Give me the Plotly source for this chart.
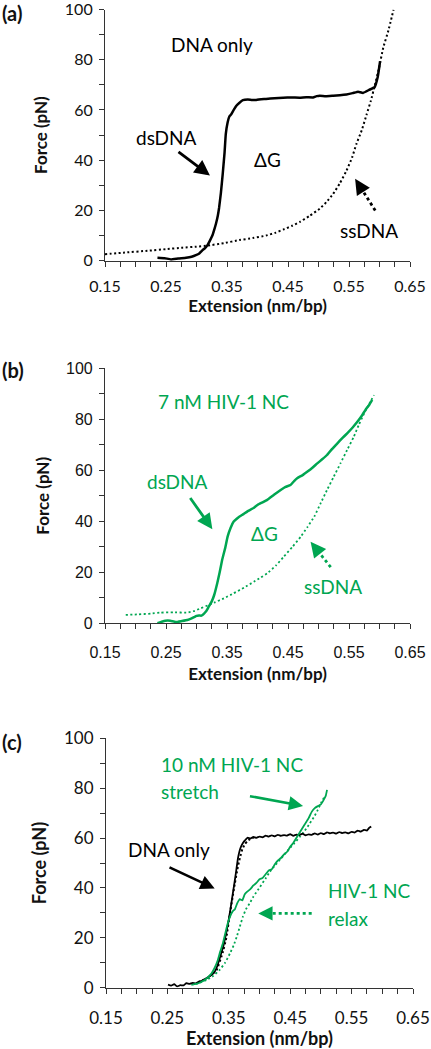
import math
import plotly.graph_objects as go

# ---------------- data ----------------
# Panel (a): DNA only
a_ds_x = [0.236, 0.248, 0.258, 0.270, 0.283, 0.292, 0.299, 0.305, 0.310, 0.314, 0.318, 0.322, 0.326,
          0.329, 0.332, 0.335, 0.337, 0.340, 0.343, 0.346, 0.348, 0.351, 0.354, 0.357, 0.361, 0.365,
          0.370, 0.376, 0.384, 0.391, 0.398, 0.406, 0.414, 0.428, 0.442, 0.456, 0.469, 0.480, 0.491,
          0.497, 0.502, 0.512, 0.524, 0.535, 0.546, 0.556, 0.565, 0.573, 0.583, 0.592, 0.597, 0.601]
a_ds_y = [1.2, 1.0, 0.5, 0.9, 1.2, 1.6, 2.2, 3.0, 4.2, 5.0, 6.2, 8.0, 10.0,
          12.3, 14.8, 18.0, 21.0, 27.0, 34.6, 43.0, 50.4, 55.0, 57.5, 58.3, 60.0, 61.6,
          62.8, 63.9, 64.2, 64.0, 64.0, 64.3, 64.4, 64.7, 64.9, 65.0, 64.9, 65.1, 65.0,
          65.5, 65.7, 65.5, 65.7, 65.9, 66.2, 66.7, 67.3, 66.8, 68.0, 69.1, 73.0, 79.4]
a_ss_x = [0.150, 0.180, 0.222, 0.250, 0.277, 0.300, 0.318, 0.345, 0.370, 0.392, 0.414, 0.430, 0.442,
          0.456, 0.469, 0.485, 0.502, 0.513, 0.524, 0.535, 0.546, 0.555, 0.562, 0.571, 0.579, 0.586,
          0.592, 0.599, 0.606, 0.615, 0.623]
a_ss_y = [2.6, 3.2, 4.0, 4.6, 5.2, 5.6, 6.0, 7.0, 8.2, 9.0, 10.0, 11.2, 12.4,
          13.8, 15.4, 17.8, 20.7, 23.3, 26.6, 30.8, 35.9, 41.0, 46.4, 52.0, 58.3, 63.8,
          69.5, 76.5, 84.7, 92.0, 99.9]

# Panel (b): 7 nM HIV-1 NC
b_ds_x = [0.236, 0.243, 0.249, 0.257, 0.266, 0.276, 0.285, 0.291, 0.296, 0.300, 0.304, 0.308, 0.312,
          0.316, 0.320, 0.325, 0.329, 0.334, 0.338, 0.342, 0.347, 0.351, 0.356, 0.361, 0.366, 0.370,
          0.377, 0.383, 0.392, 0.400, 0.408, 0.416, 0.427, 0.438, 0.446, 0.454, 0.460, 0.465, 0.474,
          0.482, 0.490, 0.498, 0.506, 0.514, 0.522, 0.531, 0.539, 0.547, 0.556, 0.564, 0.571, 0.577,
          0.583, 0.588]
b_ds_y = [0.0, 0.6, 1.0, 1.0, 0.5, 0.9, 1.3, 1.8, 2.4, 2.9, 3.1, 3.0, 3.7,
          4.8, 6.5, 8.6, 11.1, 15.7, 20.0, 24.8, 29.5, 34.0, 37.5, 39.9, 41.0, 41.8,
          42.8, 43.8, 45.0, 46.4, 47.4, 48.4, 50.4, 52.3, 53.5, 54.2, 55.8, 56.9, 58.1,
          59.5, 61.0, 62.7, 64.3, 66.0, 68.3, 70.6, 72.6, 74.5, 76.8, 79.1, 81.4, 83.7,
          85.6, 87.6]
b_ss_x = [0.184, 0.205, 0.225, 0.241, 0.262, 0.285, 0.297, 0.307, 0.318, 0.329, 0.345, 0.361, 0.378,
          0.394, 0.405, 0.416, 0.430, 0.443, 0.457, 0.471, 0.482, 0.493, 0.503, 0.514, 0.525, 0.536,
          0.547, 0.558, 0.566, 0.575, 0.583, 0.591]
b_ss_y = [3.3, 3.5, 3.8, 4.2, 4.3, 4.2, 4.9, 5.9, 7.0, 8.1, 9.8, 11.8, 14.0,
          16.3, 17.9, 19.6, 22.6, 26.1, 29.9, 34.0, 37.8, 41.8, 46.8, 52.3, 57.5, 62.7,
          68.0, 73.2, 77.8, 82.4, 86.0, 89.5]

# Panel (c): DNA only vs 10 nM HIV-1 NC
c_dna_s_x = [0.251, 0.256, 0.261, 0.266, 0.271, 0.276, 0.281, 0.286, 0.291, 0.296, 0.301, 0.306, 0.311,
             0.316, 0.321, 0.326, 0.331, 0.336, 0.341, 0.345, 0.349, 0.353, 0.357, 0.361, 0.365, 0.369,
             0.373, 0.377, 0.381, 0.385, 0.390, 0.395, 0.400, 0.405, 0.410, 0.415, 0.420, 0.425, 0.430,
             0.435, 0.440, 0.445, 0.450, 0.455, 0.460, 0.465, 0.470, 0.475, 0.480, 0.485, 0.490, 0.495,
             0.500, 0.505, 0.510, 0.515, 0.520, 0.525, 0.530, 0.535, 0.540, 0.545, 0.550, 0.555, 0.560,
             0.565, 0.570, 0.575, 0.579, 0.582]
c_dna_s_y = [1.2, 0.8, 1.4, 0.5, 1.0, 0.9, 1.8, 1.5, 1.9, 1.7, 2.4, 2.8, 3.5,
             4.2, 5.0, 6.0, 8.5, 12.4, 16.5, 21.0, 26.0, 32.0, 38.5, 45.0, 52.0, 56.0,
             58.0, 59.3, 60.2, 59.8, 60.5, 60.1, 60.6, 60.3, 61.0, 60.6, 61.1, 60.7, 61.3,
             60.9, 61.2, 61.0, 61.6, 60.9, 61.4, 61.2, 61.8, 61.1, 61.5, 61.3, 61.9, 61.4,
             62.0, 61.6, 62.3, 61.9, 62.2, 61.8, 62.4, 62.0, 62.3, 61.9, 62.5, 62.2, 63.0,
             62.6, 63.3, 63.0, 64.2, 64.6]
c_dna_r_x = [0.300, 0.315, 0.330, 0.340, 0.346, 0.352, 0.356, 0.360, 0.364, 0.368, 0.372, 0.376, 0.380,
             0.384, 0.388, 0.392]
c_dna_r_y = [2.0, 4.0, 7.0, 14.0, 20.0, 30.0, 36.0, 42.0, 47.5, 52.0, 55.5, 57.5, 58.8,
             59.5, 60.0, 60.2]
c_nc_s_x = [0.292, 0.298, 0.304, 0.310, 0.316, 0.322, 0.327, 0.332, 0.336, 0.340, 0.344, 0.348, 0.352,
            0.356, 0.360, 0.364, 0.368, 0.372, 0.376, 0.380, 0.385, 0.390, 0.395, 0.400, 0.405, 0.410,
            0.415, 0.420, 0.425, 0.430, 0.435, 0.440, 0.445, 0.450, 0.455, 0.460, 0.465, 0.470, 0.475,
            0.480, 0.485, 0.490, 0.495, 0.500, 0.505, 0.508, 0.510]
c_nc_s_y = [1.3, 1.6, 2.2, 3.0, 4.2, 5.8, 8.0, 11.0, 14.5, 17.5, 21.5, 25.5, 28.5,
            30.5, 31.5, 34.0, 35.5, 35.0, 37.5, 38.5, 39.5, 41.0, 42.0, 43.5, 44.0, 45.5,
            47.0, 47.5, 49.5, 51.0, 52.0, 53.5, 54.5, 56.5, 58.0, 60.0, 62.0, 64.0, 66.0,
            68.0, 70.5, 72.0, 72.8, 73.5, 75.5, 77.0, 79.3]
c_nc_r_x = [0.289, 0.300, 0.314, 0.325, 0.335, 0.344, 0.352, 0.358, 0.363, 0.368, 0.373, 0.378, 0.384,
            0.390, 0.401, 0.410, 0.417, 0.425, 0.433, 0.441, 0.449, 0.457, 0.466, 0.474, 0.482, 0.490,
            0.495, 0.500, 0.506]
c_nc_r_y = [1.1, 1.8, 3.1, 4.8, 7.1, 10.0, 13.8, 17.0, 20.5, 24.5, 28.5, 31.5, 33.8,
            36.5, 40.5, 43.8, 46.5, 49.0, 51.2, 53.5, 55.9, 58.0, 60.6, 63.0, 65.9, 69.0,
            71.3, 74.0, 76.6]

x_ticks = [0.15, 0.25, 0.35, 0.45, 0.55, 0.65]
x_tick_labels = ["0.15", "0.25", "0.35", "0.45", "0.55", "0.65"]
y_ticks = [0, 20, 40, 60, 80, 100]

BLACK = "#000000"
GREEN = "#00a651"
FONT = "Lato"

W, H = 431.0, 1049.0
ML, MR = 105, 18
PW = W - ML - MR

fig = go.Figure()

def line(x, y, color, width, dash, xa, ya):
    fig.add_trace(go.Scatter(x=x, y=y, mode="lines", xaxis=xa, yaxis=ya, showlegend=False,
                             line=dict(color=color, width=width, dash=dash, shape="spline", smoothing=0.3),
                             hoverinfo="skip"))

line(a_ss_x, a_ss_y, BLACK, 2, "2px,2.5px", "x", "y")
line(a_ds_x, a_ds_y, BLACK, 2.5, "solid", "x", "y")
line(b_ss_x, b_ss_y, GREEN, 1.8, "2px,2.5px", "x2", "y2")
line(b_ds_x, b_ds_y, GREEN, 2.5, "solid", "x2", "y2")
line(c_nc_r_x, c_nc_r_y, GREEN, 1.8, "2px,2.5px", "x3", "y3")
line(c_dna_r_x, c_dna_r_y, BLACK, 2, "2px,2.5px", "x3", "y3")
line(c_dna_s_x, c_dna_s_y, BLACK, 1.8, "solid", "x3", "y3")
line(c_nc_s_x, c_nc_s_y, GREEN, 1.8, "solid", "x3", "y3")

def yd(top, bottom):
    return [1 - bottom / H, 1 - top / H]

def xaxis(domain, anchor, tickfont, standoff, tstandoff, title_size):
    return dict(domain=domain, anchor=anchor, range=[0.15, 0.65], tickmode="array",
                tickvals=x_ticks, ticktext=x_tick_labels, ticks="outside", ticklen=5,
                tickcolor="#333", tickwidth=1, showline=True, linecolor="#333", linewidth=1.2,
                showgrid=False, zeroline=False, tickfont=tickfont, ticklabelstandoff=standoff,
                ticklabeloverflow="allow",
                minor=dict(tickvals=[0.15 + 0.025 * i for i in range(21)], ticks="outside",
                           ticklen=5, tickcolor="#333", tickwidth=1, showgrid=False),
                title=dict(text="<b>Extension (nm/bp)</b>", font=dict(family=FONT, size=title_size, color="#111"),
                           standoff=tstandoff),
                automargin=False, fixedrange=True)

def yaxis(domain, anchor, tickfont, title_size):
    return dict(domain=domain, anchor=anchor, range=[0, 100], tickvals=y_ticks, ticks="outside",
                ticklen=5, tickcolor="#333", tickwidth=1, showline=True, linecolor="#333", linewidth=1.2,
                showgrid=False, zeroline=False, tickfont=tickfont, ticklabelstandoff=3,
                ticklabeloverflow="allow",
                minor=dict(dtick=10, ticks="outside", ticklen=5, tickcolor="#333", tickwidth=1, showgrid=False),
                title=dict(text="<b>Force (pN)</b>", font=dict(family=FONT, size=title_size, color="#111"),
                           standoff=12),
                automargin=False, fixedrange=True)

fa = dict(family=FONT, size=16, color="#111")
fb = dict(family="Liberation Sans", size=16, color="#111")
fc = dict(family=FONT, size=17, color="#111")

dom_ab = [0, 305 / PW]
dom_c = [1 / PW, 1.0]
Y_A = (9.5, 260.7)
Y_B = (368.3, 623.3)
Y_C = (738.3, 987.7)

fig.update_layout(
    width=int(W), height=int(H), margin=dict(l=ML, r=MR, t=0, b=0),
    paper_bgcolor="white", plot_bgcolor="white", showlegend=False,
    xaxis=xaxis(dom_ab, "y", fa, 6, 4, 17),
    yaxis=yaxis(yd(*Y_A), "x", fa, 17),
    xaxis2=xaxis(dom_ab, "y2", fb, 9, 8, 17),
    yaxis2=yaxis(yd(*Y_B), "x2", fb, 17),
    xaxis3=xaxis(dom_c, "y3", fc, 10, 7, 18),
    yaxis3=yaxis(yd(*Y_C), "x3", fc, 18),
)

# pixel scale per data unit for each panel (for arrow-head direction only)
scale = {
    "x": ((dom_ab[1] - dom_ab[0]) * PW / 0.5, (Y_A[1] - Y_A[0]) / 100.0),
    "x2": ((dom_ab[1] - dom_ab[0]) * PW / 0.5, (Y_B[1] - Y_B[0]) / 100.0),
    "x3": ((dom_c[1] - dom_c[0]) * PW / 0.5, (Y_C[1] - Y_C[0]) / 100.0),
}

ann = []
def text(t, x, y, xa, ya, color, size, xanchor="center"):
    ann.append(dict(text=t, x=x, y=y, xref=xa, yref=ya, showarrow=False,
                    xanchor=xanchor, yanchor="middle", font=dict(family=FONT, size=size, color=color)))

def arrow(x0, y0, x1, y1, xa, ya, color, width):
    ann.append(dict(text="", x=x1, y=y1, ax=x0, ay=y0, xref=xa, yref=ya, axref=xa, ayref=ya,
                    showarrow=True, arrowhead=2, arrowsize=1.1, arrowwidth=width, arrowcolor=color,
                    standoff=0, startstandoff=0))

def dotted_arrow(x0, y0, x1, y1, xa, ya, color, width):
    sx, sy = scale[xa]
    dx = (x0 - x1) * sx
    dy = -(y0 - y1) * sy
    L = math.hypot(dx, dy)
    hl = 12.0
    fig.add_shape(type="line", x0=x0, y0=y0, x1=x1 + (x0 - x1) * hl / L * 0.6,
                  y1=y1 + (y0 - y1) * hl / L * 0.6, xref=xa, yref=ya,
                  line=dict(color=color, width=width, dash="3px,3px"))
    ann.append(dict(text="", x=x1, y=y1, ax=dx * hl / L, ay=dy * hl / L, xref=xa, yref=ya,
                    axref="pixel", ayref="pixel",
                    showarrow=True, arrowhead=2, arrowsize=1.1, arrowwidth=width, arrowcolor=color,
                    standoff=0, startstandoff=0))

# Panel labels
for lab, py in (("(a)", 13), ("(b)", 370), ("(c)", 742)):
    ann.append(dict(text="<b>%s</b>" % lab, x=-ML / PW, y=1 - py / H, xref="paper", yref="paper",
                    xanchor="left", yanchor="middle", showarrow=False,
                    font=dict(family=FONT, size=20, color="#111")))

# Panel (a)
text("DNA only", 0.325, 86, "x", "y", BLACK, 19)
text("dsDNA", 0.2516, 49, "x", "y", BLACK, 19)
arrow(0.268, 43.8, 0.322, 33.9, "x", "y", BLACK, 2.8)
text("ΔG", 0.417, 40.2, "x", "y", BLACK, 19)
text("ssDNA", 0.583, 12.1, "x", "y", BLACK, 19)
dotted_arrow(0.593, 20, 0.56, 32.6, "x", "y", BLACK, 2.8)

# Panel (b)
text("7 nM HIV-1 NC", 0.345, 86.9, "x2", "y2", GREEN, 19)
text("dsDNA", 0.269, 55.6, "x2", "y2", GREEN, 19)
arrow(0.288, 49.7, 0.326, 36.9, "x2", "y2", GREEN, 2.8)
text("ΔG", 0.411, 35.3, "x2", "y2", GREEN, 19)
text("ssDNA", 0.523, 14.4, "x2", "y2", GREEN, 19)
dotted_arrow(0.52, 22, 0.487, 32, "x2", "y2", GREEN, 2.8)

# Panel (c)
text("10 nM HIV-1 NC", 0.237, 89.3, "x3", "y3", GREEN, 19, xanchor="left")
text("stretch", 0.237, 78.6, "x3", "y3", GREEN, 19, xanchor="left")
arrow(0.382, 76.9, 0.471, 72.9, "x3", "y3", GREEN, 2.6)
text("DNA only", 0.183, 55.5, "x3", "y3", BLACK, 19, xanchor="left")
arrow(0.251, 48.5, 0.327, 39.8, "x3", "y3", BLACK, 2.6)
text("HIV-1 NC", 0.508, 38.8, "x3", "y3", GREEN, 19, xanchor="left")
text("relax", 0.508, 27.8, "x3", "y3", GREEN, 19, xanchor="left")
dotted_arrow(0.485, 29.8, 0.398, 29.8, "x3", "y3", GREEN, 2.6)

fig.update_layout(annotations=ann)
fig.write_html("out.html", config={"displayModeBar": False})

# remove the default page margin so the 431x1049 figure fits the window exactly
with open("out.html", "r", encoding="utf-8") as f:
    page = f.read()
page = page.replace("<body>", '<body style="margin:0;padding:0;overflow:hidden">', 1)
with open("out.html", "w", encoding="utf-8") as f:
    f.write(page)
